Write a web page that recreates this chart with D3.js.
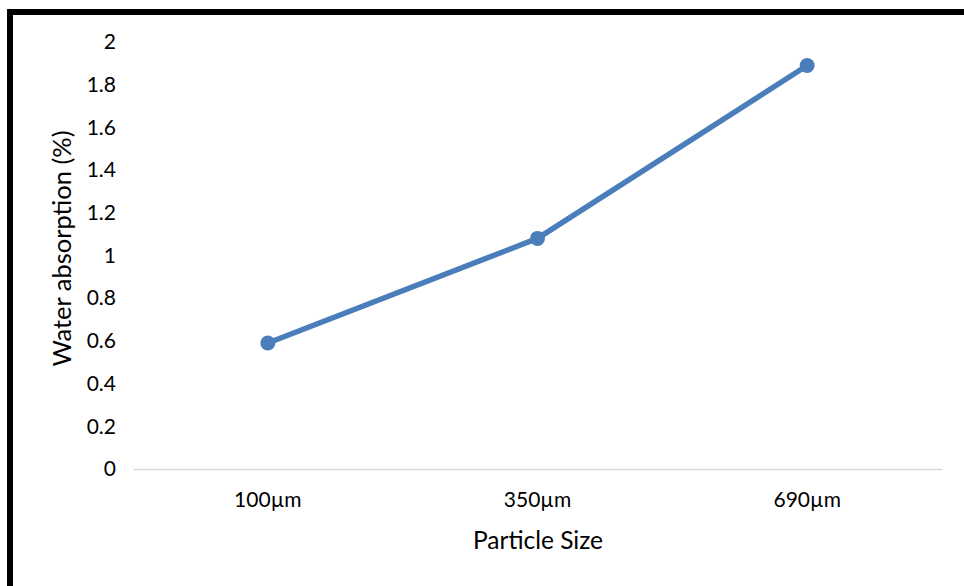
<!DOCTYPE html>
<html><head><meta charset="utf-8">
<script src="https://cdn.jsdelivr.net/npm/d3@7"></script>
<style>body{margin:0;background:#fff}svg{display:block}</style>
</head><body>
<script>
const categories = ["100µm", "350µm", "690µm"];
const values = [0.59, 1.08, 1.89];
const yTicks = [0, 0.2, 0.4, 0.6, 0.8, 1, 1.2, 1.4, 1.6, 1.8, 2];
const xTitle = "Particle Size";
const yTitle = "Water absorption (%)";

const W = 964, H = 586;
const font = "Lato, 'Open Sans', sans-serif";
const svg = d3.select("body").append("svg").attr("width", W).attr("height", H);

// outer frame
svg.append("rect").attr("x", 10).attr("y", 12).attr("width", W + 20).attr("height", H + 20)
  .attr("fill", "none").attr("stroke", "#000").attr("stroke-width", 6);

const x = d3.scaleBand().domain(categories).range([133, 942]);
const y = d3.scaleLinear().domain([0, 2]).range([469, 42]);

// y tick labels
const yAxis = d3.axisLeft(y).tickValues(yTicks).tickSize(0).tickPadding(0)
  .tickFormat(d => d3.format("~g")(d));
const gy = svg.append("g").attr("transform", "translate(116,0)").call(yAxis);
gy.select(".domain").remove();
gy.selectAll("text").attr("font-family", font).attr("font-size", 21).attr("fill", "#000");

// x axis
const xAxis = d3.axisBottom(x).tickSize(0).tickPadding(23);
const gx = svg.append("g").attr("transform", "translate(0,469)").call(xAxis);
gx.select(".domain").attr("stroke", "#d9d9d9").attr("stroke-width", 1.5);
gx.selectAll("text").attr("font-family", font).attr("font-size", 21).attr("fill", "#000")
  .attr("dy", "0").attr("y", 38);

// line
const line = d3.line().x((d, i) => x(categories[i]) + x.bandwidth() / 2).y(d => y(d));
svg.append("path").datum(values).attr("d", line).attr("fill", "none")
  .attr("stroke", "#4a7ebb").attr("stroke-width", 5.5).attr("stroke-linejoin", "round");
svg.selectAll("circle.pt").data(values).enter().append("circle").attr("class", "pt")
  .attr("cx", (d, i) => x(categories[i]) + x.bandwidth() / 2).attr("cy", d => y(d))
  .attr("r", 7.5).attr("fill", "#4a7ebb");

// titles
svg.append("text").attr("x", 538).attr("y", 549).attr("text-anchor", "middle")
  .attr("font-family", font).attr("font-size", 24.5).attr("fill", "#000").text(xTitle);
svg.append("text").attr("transform", "translate(71,248.5) rotate(-90)").attr("text-anchor", "middle")
  .attr("font-family", font).attr("font-size", 25.5).attr("fill", "#000").text(yTitle);
</script>
</body></html>
